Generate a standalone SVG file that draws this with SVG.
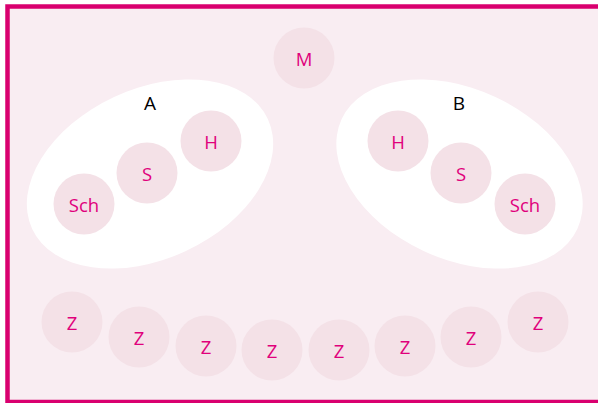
<svg xmlns="http://www.w3.org/2000/svg" width="598" height="403" viewBox="0 0 598 403">
<style>
.n{fill:#f4e1e7}
.t{font-family:"Open Sans","Noto Sans","Liberation Sans",sans-serif;font-size:18.5px;fill:#e0007c;text-anchor:middle;dominant-baseline:central}
.g{font-family:"Open Sans","Noto Sans","Liberation Sans",sans-serif;font-size:19px;fill:#000;text-anchor:middle;dominant-baseline:central}
.e{fill:#ffffff}
</style>
<rect x="0" y="0" width="598" height="403" fill="#ffffff"/>
<rect x="7.5" y="6.5" width="600" height="395.5" fill="#f9edf2" stroke="#d9006f" stroke-width="4.5"/>
<g id="groupA">
<ellipse class="e" cx="150" cy="174" rx="130" ry="85" transform="rotate(-25 150 174)"/>
<text class="g" x="150" y="103">A</text>
</g>
<g id="groupB">
<ellipse class="e" cx="459.5" cy="174" rx="130" ry="85" transform="rotate(25 459.5 174)"/>
<text class="g" x="459" y="103">B</text>
</g>
<g id="M"><circle class="n" cx="304" cy="58" r="30.5"/><text class="t" x="304" y="58">M</text></g>
<g id="A-Sch"><circle class="n" cx="84" cy="204" r="30.5"/><text class="t" x="84" y="204">Sch</text></g>
<g id="A-S"><circle class="n" cx="147" cy="173" r="30.5"/><text class="t" x="147" y="173">S</text></g>
<g id="A-H"><circle class="n" cx="211" cy="141" r="30.5"/><text class="t" x="211" y="141">H</text></g>
<g id="B-H"><circle class="n" cx="398" cy="141" r="30.5"/><text class="t" x="398" y="141">H</text></g>
<g id="B-S"><circle class="n" cx="461" cy="173" r="30.5"/><text class="t" x="461" y="173">S</text></g>
<g id="B-Sch"><circle class="n" cx="525" cy="204" r="30.5"/><text class="t" x="525" y="204">Sch</text></g>
<g id="Z1"><circle class="n" cx="72" cy="322" r="30.5"/><text class="t" x="72" y="322">Z</text></g>
<g id="Z2"><circle class="n" cx="139" cy="337" r="30.5"/><text class="t" x="139" y="337">Z</text></g>
<g id="Z3"><circle class="n" cx="206" cy="346" r="30.5"/><text class="t" x="206" y="346">Z</text></g>
<g id="Z4"><circle class="n" cx="272" cy="350" r="30.5"/><text class="t" x="272" y="350">Z</text></g>
<g id="Z5"><circle class="n" cx="339" cy="350" r="30.5"/><text class="t" x="339" y="350">Z</text></g>
<g id="Z6"><circle class="n" cx="405" cy="346" r="30.5"/><text class="t" x="405" y="346">Z</text></g>
<g id="Z7"><circle class="n" cx="471" cy="337" r="30.5"/><text class="t" x="471" y="337">Z</text></g>
<g id="Z8"><circle class="n" cx="538" cy="322" r="30.5"/><text class="t" x="538" y="322">Z</text></g>
<g id="connectors"></g>
</svg>
